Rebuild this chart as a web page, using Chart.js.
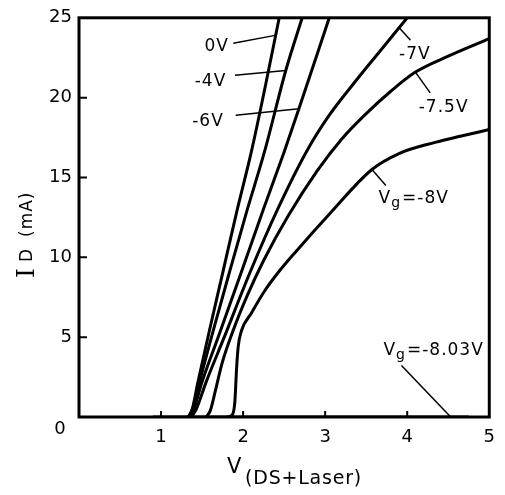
<!DOCTYPE html>
<html>
<head>
  <meta charset="utf-8">
  <title>I_D vs V(DS+Laser)</title>
  <script src="https://cdn.jsdelivr.net/npm/chart.js@4.4.0/dist/chart.umd.min.js"></script>
  <style>
    html, body { margin: 0; padding: 0; background: #fff; }
  </style>
</head>
<body>
  <canvas id="ivChart" width="505" height="495"></canvas>

  <script>
    // gate voltage of each curve
    const gateLabels = ['0V', '-4V', '-6V', '-7V', '-7.5V', '-8V', '-8.03V'];

    // V(DS+Laser) in volts / I_D in mA
    const v0   = [1.33, 1.38, 1.45, 1.58, 1.75, 1.92, 2.10, 2.27, 2.44];
    const i0   = [0, 0.5, 2.2, 5.2, 9.0, 12.8, 16.6, 20.7, 25];

    const vM4  = [1.34, 1.39, 1.47, 1.63, 1.83, 2.04, 2.26, 2.52, 2.72];
    const iM4  = [0, 0.5, 2.2, 5.3, 9.0, 12.8, 16.6, 21.7, 25];

    const vM6  = [1.35, 1.40, 1.50, 1.71, 1.98, 2.24, 2.50, 2.68, 3.05];
    const iM6  = [0, 0.5, 2.2, 5.2, 9.1, 12.9, 16.6, 19.3, 25];

    const vM7  = [1.37, 1.43, 1.55, 1.77, 2.08, 2.42, 2.77, 3.05, 3.35, 3.65, 4.00];
    const iM7  = [0, 0.5, 2.2, 5.0, 9.0, 13.0, 16.6, 18.9, 20.9, 22.8, 25];

    const vM75 = [1.55, 1.60, 1.66, 1.74, 1.87, 2.05, 2.25, 2.55, 2.90, 3.20, 3.50, 3.80, 4.10, 4.50, 5.0];
    const iM75 = [0, 0.4, 1.6, 3.3, 5.3, 7.6, 9.8, 12.6, 15.4, 17.4, 19.0, 20.4, 21.6, 22.6, 23.7];

    const vM8  = [1.81, 1.87, 1.90, 1.92, 1.94, 1.98, 2.10, 2.25, 2.42, 2.65, 3.05, 3.57, 3.90, 4.34, 4.66, 5.0];
    const iM8  = [0, 0.15, 1.0, 3.0, 4.4, 5.4, 6.5, 7.8, 9.0, 10.4, 12.7, 15.5, 16.5, 17.2, 17.6, 18.0];

    const vM803 = [0.9, 4.75];
    const iM803 = [0, 0];

    const xTicks = [0, 1, 2, 3, 4, 5];
    const yTicks = [0, 5, 10, 15, 20, 25];

    // curve labels: text start/baseline, leader from -> to (data coords)
    const notes = [
      { text: '0V',         at: [1.53, 22.95], from: [1.88, 23.4], to: [2.39, 23.9] },
      { text: '-4V',        at: [1.41, 20.7],  from: [1.90, 21.4], to: [2.52, 21.7] },
      { text: '-6V',        at: [1.38, 18.2],  from: [1.91, 18.9], to: [2.68, 19.3] },
      { text: '-7V',        at: [3.90, 22.4],  from: [3.90, 24.4], to: [4.04, 23.6] },
      { text: '-7.5V',      at: [4.14, 19.1],  from: [4.10, 21.6], to: [4.28, 20.3] },
      { text: 'V_g=-8V',    at: [3.65, 13.4],  from: [3.57, 15.5], to: [3.74, 14.5] },
      { text: 'V_g=-8.03V', at: [3.71, 3.86],  from: [3.93, 3.23], to: [4.53, 0] }
    ];

    const curves = [
      [v0, i0], [vM4, iM4], [vM6, iM6], [vM7, iM7], [vM75, iM75], [vM8, iM8], [vM803, iM803]
    ];

    const datasets = curves.map(([vs, is], k) => ({
      label: gateLabels[k],
      data: vs.map((v, j) => ({ x: v, y: is[j] })),
      showLine: true,
      borderColor: '#000',
      borderWidth: 3,
      pointRadius: 0,
      cubicInterpolationMode: 'monotone',
      fill: false
    }));

    const FONT = 'DejaVu Sans';

    function drawLabel(ctx, text, x, y) {
      // "_g" means subscript g
      const parts = text.split('_');
      let cx = x;
      parts.forEach((p, n) => {
        if (n > 0) {
          ctx.font = '14px ' + FONT;
          ctx.fillText(p[0], cx, y + 4);
          cx += ctx.measureText(p[0]).width + 1;
          p = p.slice(1);
        }
        ctx.font = '17px ' + FONT;
        ctx.fillText(p, cx, y);
        cx += ctx.measureText(p).width;
      });
    }

    const figurePlugin = {
      id: 'figure',
      afterDatasetsDraw(chart) {
        const { ctx, chartArea: a, scales: { x, y } } = chart;
        ctx.save();
        ctx.strokeStyle = '#000';
        ctx.fillStyle = '#000';
        ctx.lineCap = 'butt';

        // frame
        ctx.lineWidth = 3;
        ctx.strokeRect(a.left, a.top, a.right - a.left, a.bottom - a.top);

        // inward tick marks
        ctx.lineWidth = 2;
        ctx.beginPath();
        xTicks.slice(1, -1).forEach(t => {
          const X = x.getPixelForValue(t);
          ctx.moveTo(X, a.bottom); ctx.lineTo(X, a.bottom - 6);
        });
        yTicks.slice(1, -1).forEach(t => {
          const Y = y.getPixelForValue(t);
          ctx.moveTo(a.left, Y); ctx.lineTo(a.left + 8, Y);
        });
        ctx.stroke();

        // leaders and curve labels
        ctx.lineWidth = 1.5;
        ctx.letterSpacing = '1px';
        ctx.textBaseline = 'alphabetic';
        ctx.textAlign = 'left';
        notes.forEach(nt => {
          ctx.beginPath();
          ctx.moveTo(x.getPixelForValue(nt.from[0]), y.getPixelForValue(nt.from[1]));
          ctx.lineTo(x.getPixelForValue(nt.to[0]), y.getPixelForValue(nt.to[1]));
          ctx.stroke();
          drawLabel(ctx, nt.text, x.getPixelForValue(nt.at[0]), y.getPixelForValue(nt.at[1]));
        });
        ctx.letterSpacing = '0px';

        // shared origin "0"
        ctx.font = '18px ' + FONT;
        ctx.textAlign = 'center';
        ctx.textBaseline = 'middle';
        ctx.fillText('0', a.left - 19, a.bottom + 12);

        // x title: V(DS+Laser)
        ctx.textAlign = 'left';
        ctx.textBaseline = 'alphabetic';
        ctx.font = '21px ' + FONT;
        ctx.fillText('V', a.left + 148, a.bottom + 56);
        ctx.font = '19px ' + FONT;
        ctx.letterSpacing = '0.8px';
        ctx.fillText('(DS+Laser)', a.left + 166, a.bottom + 67);
        ctx.letterSpacing = '0px';

        // y title: I D (mA), rotated
        ctx.translate(34, a.bottom - 139);
        ctx.rotate(-Math.PI / 2);
        ctx.font = '25px DejaVu Serif';
        ctx.fillText('I', 0, 0);
        ctx.font = '17px ' + FONT;
        ctx.fillText('D', 16, -2);
        ctx.letterSpacing = '1px';
        ctx.fillText('(mA)', 41, -2);
        ctx.restore();
      }
    };

    const tickFont = { family: FONT, size: 18 };

    new Chart(document.getElementById('ivChart').getContext('2d'), {
      type: 'scatter',
      data: { datasets },
      options: {
        responsive: false,
        animation: false,
        layout: { padding: { top: 15, right: 14, left: 0, bottom: 0 } },
        plugins: { legend: { display: false }, tooltip: { enabled: false } },
        scales: {
          x: {
            type: 'linear', min: 0, max: 5,
            grid: { display: false, drawTicks: false },
            border: { display: false },
            ticks: {
              stepSize: 1, padding: 10, color: '#000', font: tickFont,
              callback: v => (v === 0 ? '' : v)
            },
            afterFit: s => { s.height = 78; }
          },
          y: {
            type: 'linear', min: 0, max: 25,
            grid: { display: false, drawTicks: false },
            border: { display: false },
            ticks: {
              stepSize: 5, padding: 7, color: '#000', font: tickFont,
              callback: v => (v === 0 ? '' : v)
            },
            afterFit: s => { s.width = 79; }
          }
        }
      },
      plugins: [figurePlugin]
    });
  </script>
</body>
</html>
